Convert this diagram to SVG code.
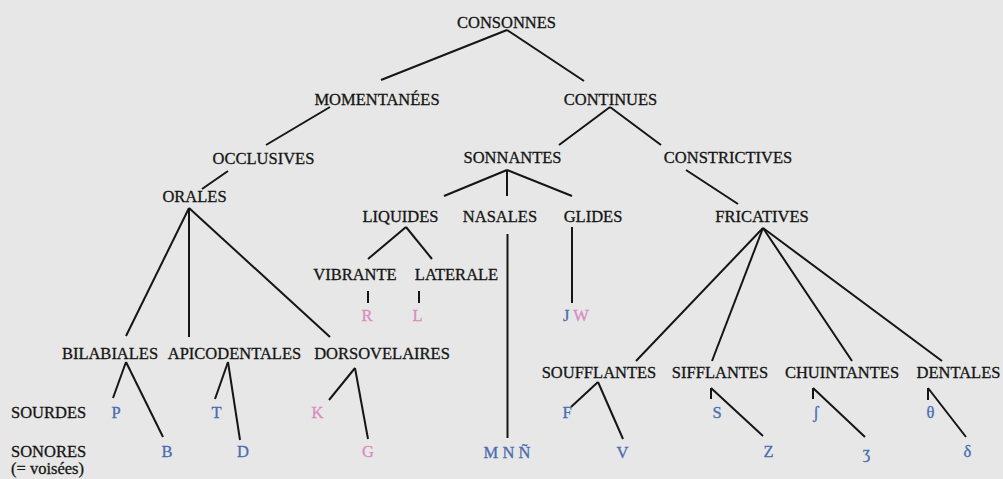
<svg xmlns="http://www.w3.org/2000/svg" width="1003" height="479" viewBox="0 0 1003 479">
<style>
  text { font-family: "Liberation Serif", "Times New Roman", serif; font-size: 16.5px; fill: #151515; stroke: #151515; stroke-width: 0.3; text-anchor: middle; }
  .l { text-anchor: start; }
  .b { fill: #4a6db2; stroke: #4a6db2; }
  .p { fill: #da8cc2; stroke: #da8cc2; }
  .c line { stroke: #151515; stroke-width: 2; stroke-linecap: butt; }
</style>
<rect width="1003" height="479" fill="#e6e7e6"/>
<g id="connectors" class="c">
  <line x1="507" y1="30" x2="381" y2="80"/>
  <line x1="507" y1="30" x2="584" y2="81"/>
  <line x1="330" y1="107" x2="266" y2="145"/>
  <line x1="228" y1="171" x2="202" y2="189"/>
  <line x1="610" y1="107" x2="559" y2="145"/>
  <line x1="610" y1="107" x2="661" y2="145"/>
  <line x1="686" y1="170" x2="738" y2="204"/>
  <line x1="507" y1="170" x2="444" y2="196"/>
  <line x1="507" y1="170" x2="507" y2="196"/>
  <line x1="507" y1="170" x2="572" y2="196"/>
  <line x1="406" y1="227" x2="368" y2="259"/>
  <line x1="406" y1="227" x2="432" y2="259"/>
  <line x1="368" y1="291" x2="368" y2="303"/>
  <line x1="419" y1="291" x2="419" y2="303"/>
  <line x1="507.5" y1="234" x2="507.5" y2="438"/>
  <line x1="572" y1="227" x2="572" y2="303"/>
  <line x1="189" y1="208" x2="126" y2="336"/>
  <line x1="189" y1="208" x2="189" y2="337"/>
  <line x1="189" y1="208" x2="330" y2="337"/>
  <line x1="763" y1="228" x2="636" y2="361"/>
  <line x1="763" y1="228" x2="712" y2="361"/>
  <line x1="763" y1="228" x2="852" y2="361"/>
  <line x1="763" y1="228" x2="942" y2="361"/>
  <line x1="126" y1="362" x2="113" y2="398"/>
  <line x1="126" y1="362" x2="163" y2="437"/>
  <line x1="228" y1="362" x2="215" y2="399"/>
  <line x1="228" y1="362" x2="240" y2="440"/>
  <line x1="355" y1="368" x2="329" y2="400"/>
  <line x1="355" y1="368" x2="368" y2="439"/>
  <line x1="598" y1="382" x2="571" y2="407"/>
  <line x1="598" y1="382" x2="623" y2="439"/>
  <line x1="711" y1="388" x2="711" y2="399"/>
  <line x1="711" y1="388" x2="763" y2="436"/>
  <line x1="813" y1="388" x2="813" y2="399"/>
  <line x1="813" y1="388" x2="865" y2="437"/>
  <line x1="928" y1="388" x2="928" y2="400"/>
  <line x1="928" y1="388" x2="966" y2="437"/>
</g>
<g id="consonnes"><text x="506.5" y="28">CONSONNES</text></g>
<g id="momentanees"><text x="377" y="105">MOMENTANÉES</text></g>
<g id="continues"><text x="610.5" y="105">CONTINUES</text></g>
<g id="occlusives"><text x="263.5" y="164">OCCLUSIVES</text></g>
<g id="sonnantes"><text x="512.5" y="163">SONNANTES</text></g>
<g id="constrictives"><text x="728" y="163">CONSTRICTIVES</text></g>
<g id="orales"><text x="194.5" y="202">ORALES</text></g>
<g id="liquides"><text x="400.5" y="222">LIQUIDES</text></g>
<g id="nasales"><text x="500" y="222">NASALES</text></g>
<g id="glides"><text x="593" y="222">GLIDES</text></g>
<g id="fricatives"><text x="762" y="222">FRICATIVES</text></g>
<g id="vibrante"><text x="355" y="280">VIBRANTE</text></g>
<g id="laterale"><text x="456.5" y="280">LATERALE</text></g>
<g id="r"><text class="p" x="367" y="321">R</text></g>
<g id="l"><text class="p" x="417.5" y="321">L</text></g>
<g id="jw"><text class="l" x="563" y="321"><tspan class="b">J</tspan> <tspan class="p">W</tspan></text></g>
<g id="bilabiales"><text x="110" y="359">BILABIALES</text></g>
<g id="apicodentales"><text x="234.5" y="359">APICODENTALES</text></g>
<g id="dorsovelaires"><text x="382" y="359">DORSOVELAIRES</text></g>
<g id="soufflantes"><text x="599" y="378">SOUFFLANTES</text></g>
<g id="sifflantes"><text x="720" y="378">SIFFLANTES</text></g>
<g id="chuintantes"><text x="842" y="378">CHUINTANTES</text></g>
<g id="dentales"><text x="958.5" y="378">DENTALES</text></g>
<g id="sourdes"><text class="l" x="11" y="418">SOURDES</text></g>
<g id="sonores"><text class="l" x="11" y="457">SONORES</text><text class="l" x="11" y="474" style="font-size:16.5px">(= voisées)</text></g>
<g id="p"><text class="b" x="116" y="418">P</text></g>
<g id="t"><text class="b" x="216.5" y="418">T</text></g>
<g id="k"><text class="p" x="317.5" y="418">K</text></g>
<g id="f"><text class="b" x="567" y="418">F</text></g>
<g id="s"><text class="b" x="717" y="418">S</text></g>
<g id="esh"><text class="b" x="816" y="418">ʃ</text></g>
<g id="theta"><text class="b" x="930.5" y="418">θ</text></g>
<g id="bb"><text class="b" x="167" y="457">B</text></g>
<g id="d"><text class="b" x="243" y="457">D</text></g>
<g id="g"><text class="p" x="368" y="457">G</text></g>
<g id="mnn"><text class="b" x="507" y="458">M N Ñ</text></g>
<g id="v"><text class="b" x="622.5" y="458">V</text></g>
<g id="z"><text class="b" x="768.5" y="457">Z</text></g>
<g id="ezh"><text class="b" x="866.5" y="458">ʒ</text></g>
<g id="delta"><text class="b" x="967.5" y="457">δ</text></g>
</svg>
